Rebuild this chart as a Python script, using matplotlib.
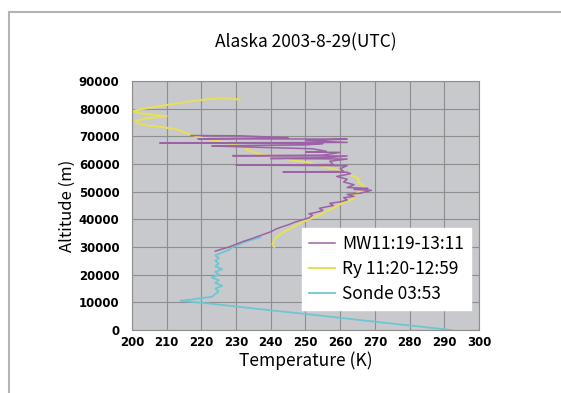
import matplotlib.pyplot as plt
from matplotlib.patches import Rectangle

# Temperature (K) / altitude (km) profiles
sonde_t = [292, 281, 270, 260, 250, 240, 230, 222, 216, 214, 217, 220, 223, 224, 225, 224, 226,
           224, 225, 223, 225, 224, 226, 224, 225, 224, 225, 224, 226, 228, 229, 231, 233, 235, 237]
sonde_alt = [0, 1.5, 3.0, 4.4, 5.8, 7.1, 8.5, 9.6, 10.3, 10.6, 11.0, 11.5, 12.0, 13.0, 14.0, 15.0, 16.0,
             17.0, 18.0, 19.0, 20.0, 21.0, 22.0, 23.0, 24.0, 25.0, 26.0, 27.0, 28.0, 29.0, 30.0, 31.0,
             32.0, 32.8, 33.5]

mw_t = [224, 226, 228, 230, 232, 234, 236, 238, 240, 241.5, 243, 245, 247, 249, 251, 252, 251, 253,
        255, 254, 256, 258, 257, 260, 262, 261, 264, 262, 266, 269, 264, 268, 262, 264, 261, 262, 259,
        263, 262, 243.5, 261, 260, 262, 230, 258, 257, 262, 240, 256, 262, 229, 255, 260, 250, 256,
        252, 223, 227, 250, 255, 208, 262, 250, 262, 219, 245, 231, 217]
mw_alt = [28.5, 29.3, 30.0, 31.0, 32.0, 32.8, 33.7, 34.6, 35.5, 36.5, 37.2, 38.0, 39.0, 39.8, 40.5,
          41.5, 42.0, 42.5, 43.2, 44.0, 44.5, 45.0, 45.8, 46.3, 47.0, 47.8, 48.3, 49.0, 49.5, 50.5,
          50.8, 51.2, 51.5, 52.5, 53.5, 54.5, 55.5, 56.5, 57.0, 57.1, 57.3, 58.3, 59.4, 59.6, 59.8,
          61.0, 61.8, 62.0, 62.3, 62.9, 63.0, 63.2, 64.2, 64.3, 64.6, 65.5, 66.5, 66.6, 66.9, 67.4,
          67.6, 67.8, 68.5, 69.0, 69.1, 69.5, 70.2, 70.3]

ry_t = [241, 240.5, 241, 242, 244.5, 247, 249, 251, 254, 256, 258, 260, 262, 264, 263, 265, 266,
        267, 266.5, 265, 265.5, 264, 262, 260, 257, 254, 251, 247, 244, 240, 237, 235, 233, 233.5,
        231, 228, 224, 220, 216, 213, 209, 205, 202, 201, 204, 208, 210, 207, 203, 200, 202, 206,
        211, 216, 221, 226, 231]
ry_alt = [30.0, 31.0, 32.5, 34.0, 36.0, 37.5, 39.0, 40.0, 41.5, 43.0, 44.0, 45.5, 46.5, 47.5, 48.5,
          49.5, 50.5, 51.5, 52.5, 53.5, 54.5, 55.5, 56.5, 57.5, 58.5, 59.5, 60.5, 61.2, 62.0, 62.8,
          63.5, 64.3, 65.2, 65.8, 66.5, 67.5, 68.5, 69.5, 71.0, 72.5, 73.3, 73.8, 74.5, 75.5, 76.5,
          77.0, 77.3, 77.6, 78.2, 79.0, 79.7, 80.5, 81.5, 82.5, 83.3, 83.8, 83.3]

series_labels = ['MW11:19-13:11', 'Ry 11:20-12:59', 'Sonde 03:53']
x_ticks = list(range(200, 301, 10))
y_ticks = list(range(0, 90001, 10000))

FONT = ['Noto Sans CJK JP', 'DejaVu Sans']

fig = plt.figure(figsize=(5.61, 3.93), dpi=100)
ax = fig.add_axes([132 / 561, 1 - 330 / 393, 347 / 561, 249 / 393])

# outer frame around the chart area
fig.patches.append(Rectangle((9 / 561, -0.1), 1.2, 1.1 - 12 / 393,
                             transform=fig.transFigure, fill=False,
                             edgecolor='#b4b4b4', linewidth=1.5))

ax.set_facecolor('#c8c9cc')
ax.plot(mw_t, [a * 1000 for a in mw_alt], color='#9c62a8', lw=1.1, label=series_labels[0], zorder=3)
ax.plot(ry_t, [a * 1000 for a in ry_alt], color='#e6df5c', lw=1.5, label=series_labels[1], zorder=2)
ax.plot(sonde_t, [a * 1000 for a in sonde_alt], color='#6ec6d2', lw=1.3, label=series_labels[2], zorder=2)

ax.set_xlim(200, 300)
ax.set_ylim(0, 90000)
ax.set_xticks(x_ticks)
ax.set_yticks(y_ticks)
ax.grid(True, color='#8e8e8e', lw=0.8)
ax.set_axisbelow(True)
ax.tick_params(axis='x', length=0, pad=4, labelsize=8.5)
ax.tick_params(axis='y', length=0, pad=9, labelsize=8.5)
for lab in ax.get_xticklabels() + ax.get_yticklabels():
    lab.set_fontweight('bold')
    lab.set_family('DejaVu Sans')
for s in ax.spines.values():
    s.set_color('#8e8e8e')

ax.set_xlabel('Temperature (K)', fontsize=12.5, family=FONT, labelpad=2)
ax.set_ylabel('Altitude (m)', fontsize=12, family=FONT, labelpad=2)
ax.set_title('Alaska 2003-8-29(UTC)', fontsize=12.5, family=FONT, pad=24)

leg = ax.legend(loc='upper left', bbox_to_anchor=(0.49, 0.41), frameon=True, fancybox=False,
                prop={'family': FONT, 'size': 12.5}, handlelength=1.5, handletextpad=0.4,
                labelspacing=0.4, borderpad=0.4, borderaxespad=0)
leg.get_frame().set_edgecolor('white')
leg.get_frame().set_alpha(1)

fig.savefig('out.png', dpi=100)
